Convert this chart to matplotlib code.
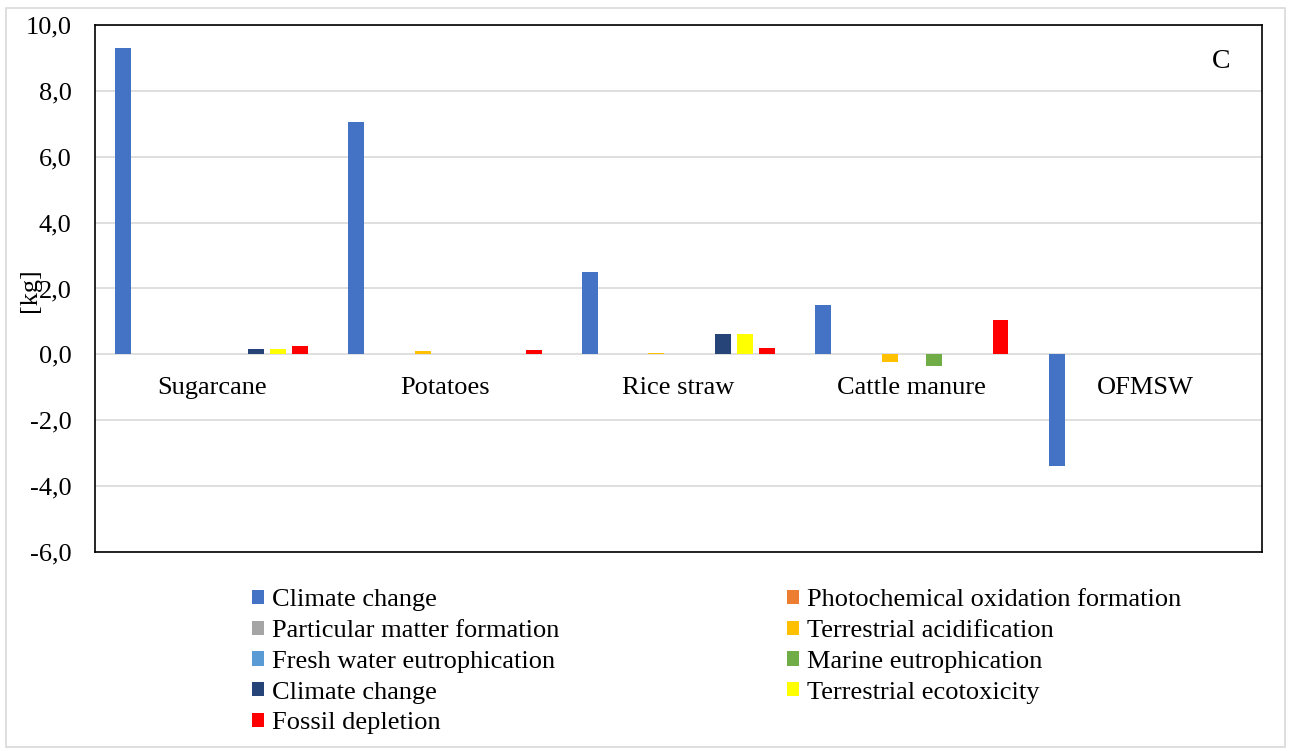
import numpy as np
import matplotlib.pyplot as plt
from matplotlib.patches import Rectangle

plt.rcParams['font.family'] = ['Liberation Serif', 'DejaVu Serif']

# categories and series
categorias = ["Sugarcane", "Potatoes", "Rice straw", "Cattle manure", "OFMSW"]
series = [
    "Climate change",
    "Photochemical oxidation formation",
    "Particular matter formation",
    "Terrestrial acidification",
    "Fresh water eutrophication",
    "Marine eutrophication",
    "Climate change",
    "Terrestrial ecotoxicity",
    "Fossil depletion",
]
colores = ["#4472C4", "#ED7D31", "#A5A5A5", "#FFC000", "#5B9BD5",
           "#70AD47", "#264478", "#FFFF00", "#FF0000"]

# values per series, one per category
climate_change = [9.30, 7.06, 2.50, 1.50, -3.39]
photochemical = [0.01, 0.01, 0.01, 0.01, 0.01]
particular = [0.01, 0.01, 0.01, 0.01, 0.01]
terr_acid = [0.01, 0.10, 0.03, -0.23, 0.01]
fresh_water = [0.01, 0.01, 0.01, 0.01, 0.01]
marine = [0.01, 0.01, 0.01, -0.36, 0.01]
climate_change2 = [0.17, 0.01, 0.62, 0.01, 0.01]
terr_ecotox = [0.16, 0.01, 0.61, 0.01, 0.01]
fossil = [0.26, 0.14, 0.18, 1.04, 0.01]

valores = [climate_change, photochemical, particular, terr_acid, fresh_water,
           marine, climate_change2, terr_ecotox, fossil]

FS = 19

fig = plt.figure(figsize=(12.91, 7.51), dpi=100)
ax = fig.add_axes([0.0736, 0.265, 0.9039, 0.7017])

x = np.arange(len(categorias))
paso = 0.095
ancho = 0.068
barras = []
for k, (nombre, vals, col) in enumerate(zip(series, valores, colores)):
    b = ax.bar(x + (k - 4) * paso, vals, ancho, color=col, label=nombre, zorder=3)
    barras.append(b)

ax.set_xlim(-0.5, len(categorias) - 0.5)
ax.set_ylim(-6, 10)
ticks = np.arange(-6, 11, 2)
ax.set_yticks(ticks)
ax.set_yticklabels([f"{v:.1f}".replace(".", ",") for v in ticks], fontsize=FS)
ax.set_xticks([])
ax.tick_params(axis='y', length=0, pad=17)
ax.grid(axis='y', color='#D9D9D9', linewidth=1.2, zorder=0)
for s in ax.spines.values():
    s.set_color('black')
    s.set_linewidth(1.2)

for i, c in enumerate(categorias):
    ax.annotate(c, (i, 0), xytext=(0, -16), textcoords='offset points',
                ha='center', va='top', fontsize=FS)

fig.text(30 / 1291, 1 - 290 / 751, "[kg]", rotation=90, fontsize=FS,
         ha='center', va='center')
ax.text(0.965, 0.93, "C", transform=ax.transAxes, fontsize=20, ha='center', va='center')

# legend filled row by row like the reference
orden = [0, 2, 4, 6, 8, 1, 3, 5, 7]
ax.legend([barras[i] for i in orden], [series[i] for i in orden],
          ncol=2, loc='upper left', bbox_to_anchor=(0.114, -0.026),
          frameon=False, fontsize=FS, handlelength=0.45, handleheight=0.45,
          handletextpad=0.3, columnspacing=8.65, labelspacing=0.33)

fig.patches.append(Rectangle((0.005, 0.005), 0.99, 0.985, transform=fig.transFigure,
                             fill=False, edgecolor='#D9D9D9', linewidth=1.2))

fig.savefig("out.png", dpi=100)
